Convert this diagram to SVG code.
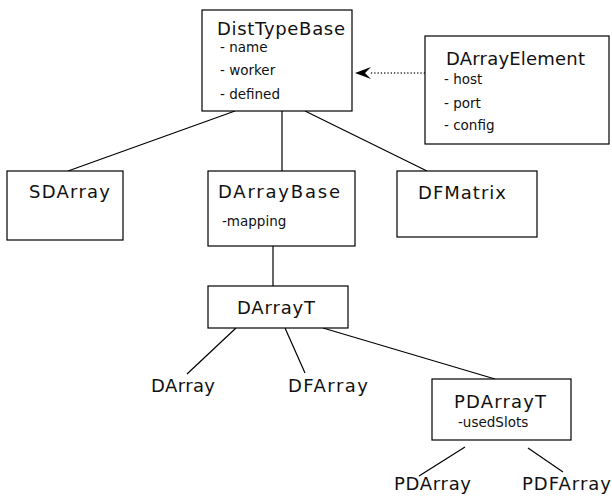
<svg xmlns="http://www.w3.org/2000/svg" width="612" height="501" viewBox="0 0 612 501">
<style>
.box{fill:#fff;stroke:#000;stroke-width:1.2}
.t{font-family:"DejaVu Sans",sans-serif;font-size:18px;fill:#111}
.a{font-family:"DejaVu Sans",sans-serif;font-size:13.5px;fill:#111}
.ln{stroke:#000;stroke-width:1.2;fill:none}
.dot{stroke:#333;stroke-width:1.3;stroke-dasharray:1.3 2;fill:none}
</style>
<rect width="612" height="501" fill="#fff"/>
<g id="connectors">
<line class="ln" x1="235" y1="111" x2="68" y2="171"/>
<line class="ln" x1="282" y1="111" x2="282" y2="171"/>
<line class="ln" x1="305" y1="111" x2="427" y2="171"/>
<line class="ln" x1="273" y1="246" x2="273" y2="286"/>
<line class="ln" x1="236" y1="328" x2="187" y2="374"/>
<line class="ln" x1="285" y1="328" x2="305" y2="373"/>
<line class="ln" x1="323" y1="328" x2="495" y2="379"/>
<line class="ln" x1="465" y1="447" x2="419" y2="476"/>
<line class="ln" x1="528" y1="448" x2="563" y2="472"/>
<path class="dot" d="M425,73 L370,73"/>
<path d="M355,73 L371,67 L365,73 L371,79 Z" fill="#000"/>
</g>
<g id="DistTypeBase">
<rect class="box" x="202" y="10" width="150" height="101"/>
<text class="t" x="217" y="35" textLength="128" lengthAdjust="spacing">DistTypeBase</text>
<text class="a" x="220" y="52">- name</text>
<text class="a" x="220" y="75">- worker</text>
<text class="a" x="220" y="99">- defined</text>
</g>
<g id="DArrayElement">
<rect class="box" x="425" y="36" width="184" height="108"/>
<text class="t" x="446" y="65" textLength="139" lengthAdjust="spacing">DArrayElement</text>
<text class="a" x="444" y="84">- host</text>
<text class="a" x="444" y="108">- port</text>
<text class="a" x="444" y="130">- config</text>
</g>
<g id="SDArray">
<rect class="box" x="7" y="171" width="116" height="69"/>
<text class="t" x="29" y="198" textLength="81" lengthAdjust="spacing">SDArray</text>
</g>
<g id="DArrayBase">
<rect class="box" x="208" y="171" width="147" height="75"/>
<text class="t" x="218" y="198" textLength="122" lengthAdjust="spacing">DArrayBase</text>
<text class="a" x="222" y="226">-mapping</text>
</g>
<g id="DFMatrix">
<rect class="box" x="397" y="171" width="140" height="66"/>
<text class="t" x="418" y="199" textLength="88" lengthAdjust="spacing">DFMatrix</text>
</g>
<g id="DArrayT">
<rect class="box" x="208" y="286" width="140" height="42"/>
<text class="t" x="237" y="314" textLength="78" lengthAdjust="spacing">DArrayT</text>
</g>
<g id="DArray">
<text class="t" x="151" y="392" textLength="64" lengthAdjust="spacing">DArray</text>
</g>
<g id="DFArray">
<text class="t" x="288" y="392" textLength="80" lengthAdjust="spacing">DFArray</text>
</g>
<g id="PDArrayT">
<rect class="box" x="432" y="379" width="139" height="61"/>
<text class="t" x="454" y="408" textLength="92" lengthAdjust="spacing">PDArrayT</text>
<text class="a" x="458" y="427">-usedSlots</text>
</g>
<g id="PDArray">
<text class="t" x="394" y="490" textLength="77" lengthAdjust="spacing">PDArray</text>
</g>
<g id="PDFArray">
<text class="t" x="522" y="490" textLength="89" lengthAdjust="spacing">PDFArray</text>
</g>
</svg>
